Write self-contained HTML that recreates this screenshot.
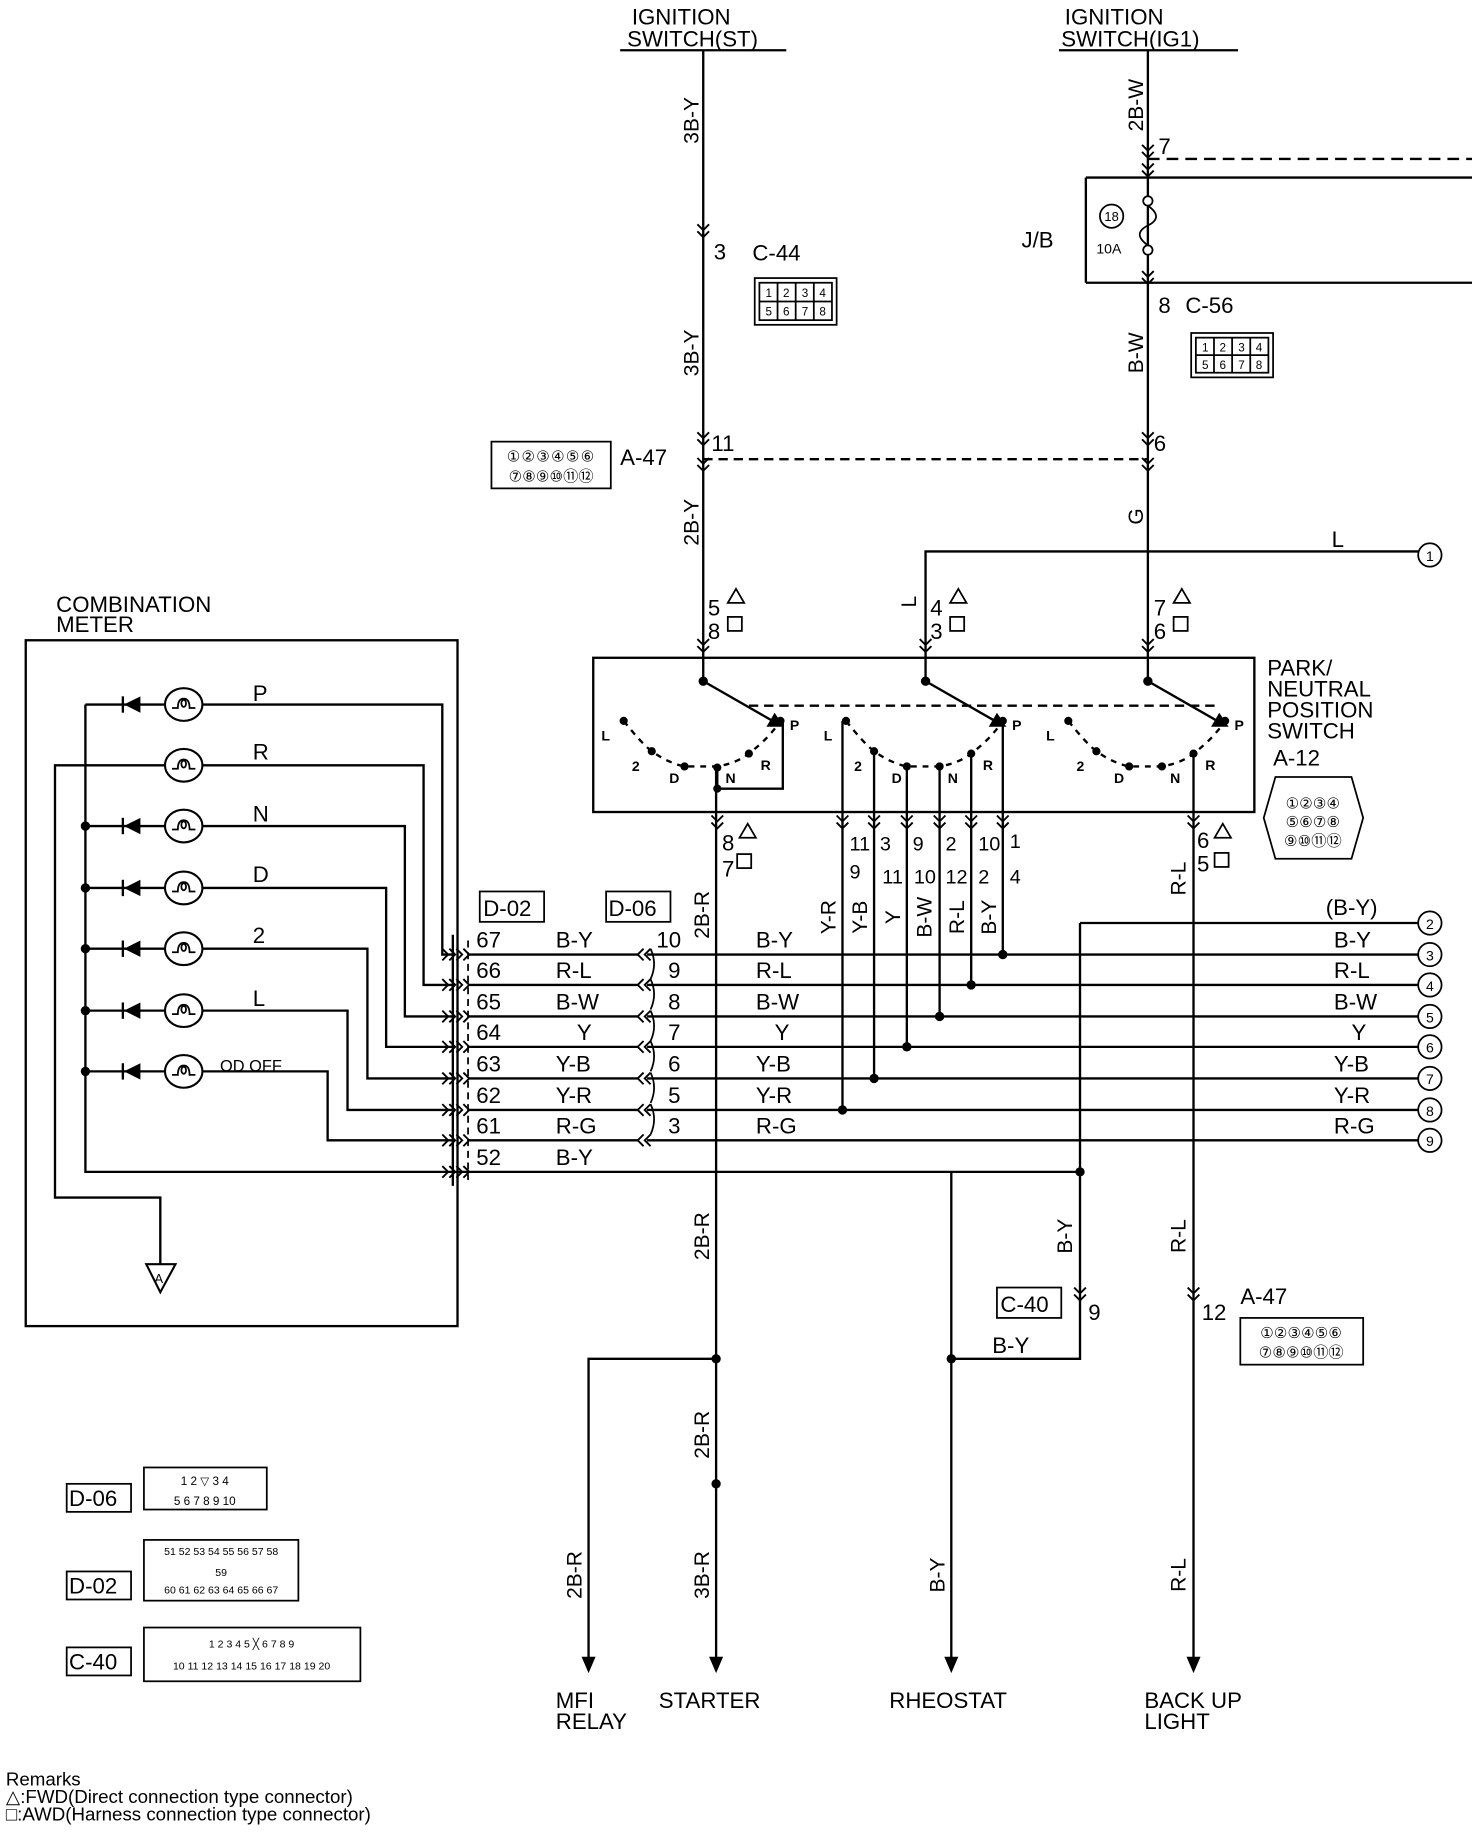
<!DOCTYPE html>
<html><head><meta charset="utf-8">
<style>
html,body{margin:0;padding:0;background:#fff;}
svg{display:block;}
text{font-family:"Liberation Sans",sans-serif;fill:#000;}
</style></head>
<body>
<svg width="1472" height="1832" viewBox="0 0 1258 1568" preserveAspectRatio="none" xmlns="http://www.w3.org/2000/svg">
<defs>
<path id="cd" d="M-5,-8L0,-3L5,-8M-5,-2L0,3L5,-2" fill="none" stroke="#000" stroke-width="1.6"/>
<path id="cr" d="M-8,-5L-3,0L-8,5M-2,-5L3,0L-2,5" fill="none" stroke="#000" stroke-width="1.6"/>
<path id="cl" d="M8,-5L3,0L8,5M2,-5L-3,0L2,5" fill="none" stroke="#000" stroke-width="1.6"/>
<g id="lamp"><ellipse cx="0" cy="0" rx="16" ry="14" fill="#fff" stroke="#000" stroke-width="1.8"/><path d="M-10,3 L-5,3 Q-5,-5 0,-5 Q5,-5 5,3 L10,3 M-2,-1 a2,3 0 1 0 4,0 a2,3 0 1 0 -4,0" fill="none" stroke="#000" stroke-width="1.5"/></g>
<g id="diode"><path d="M10,-7 L10,7 L-4,0 Z" fill="#000"/><path d="M-5,-7 L-5,7" stroke="#000" stroke-width="2"/></g>
<path id="arr" d="M-6,-14 L6,-14 L0,0 Z" fill="#000"/>
</defs>
<g stroke="#000" stroke-width="2" fill="none">
<path d="M530,43H672M905,43H1058"/>
<path d="M601,43V583M981,43V583"/>
<path d="M981,136H1258" stroke-dasharray="10,6"/>
<path d="M928,152H1258M928,242H1258M928,152V242"/>
<path d="M601,393H981" stroke-dasharray="8,5"/>
<path d="M791,583V472H1212"/>
<rect x="507" y="563" width="565" height="132"/>
<path d="M640,604H1040" stroke-dasharray="8,5"/>
<path d="M601,583L662,618M791,583L852,618M981,583L1042,618"/>
<path d="M533,617Q548,636 557,643Q571,653 585,656H613Q630,653 640,645Q657,632 667,617" stroke-dasharray="5,5"/>
<path d="M723,617Q738,636 747,643Q761,653 775,656H803Q820,653 830,645Q847,632 857,617" stroke-dasharray="5,5"/>
<path d="M913,617Q928,636 937,643Q951,653 965,656H993Q1010,653 1020,645Q1037,632 1047,617" stroke-dasharray="5,5"/>
<path d="M613,657V675H669V617"/>
<path d="M612,657V1420"/>
<path d="M612,1163H503V1420"/>
<path d="M720,617V950M747,643V923M775,656V896M803,656V870M830,645V843M857,617V817"/>
<path d="M1020,645V1420"/>
<path d="M923,790H1212M553,817H1212M553,843H1212M553,870H1212M553,896H1212M553,923H1212M553,950H1212M553,976H1212"/>
<path d="M923,790V1163H813"/>
<path d="M400,1003H923M813,1003V1420"/>
<path d="M387,800V1015"/>
<path d="M400,805V1010" stroke-dasharray="6,4" stroke-width="1.5"/>
<path d="M556,812 q6,13 0,26 M556,838 q6,13 0,26 M556,865 q6,13 0,26 M556,891 q6,13 0,26 M556,918 q6,13 0,26 M556,945 q6,13 0,26" stroke-width="1.5"/>
<path d="M400,817H545M400,843H545M400,870H545M400,896H545M400,923H545M400,950H545M400,976H545"/>
<rect x="22" y="548" width="369" height="587"/>
<path d="M73,603V1003H400"/>
<path d="M73,603H143M73,707H143M73,760H143M73,812H143M73,865H143M73,917H143"/>
<path d="M143,655H47V1025H137V1082"/>
<path d="M173,603H378V817H387M173,655H362V843H387M173,707H346V870H387M173,760H330V896H387M173,812H314V923H387M173,865H297V950H387M173,917H280V976H387"/>
<path d="M125,1082H150L137,1106Z" stroke-width="1.8"/>
</g>
<g fill="#000">
<circle cx="601" cy="583" r="4"/><circle cx="791" cy="583" r="4"/><circle cx="981" cy="583" r="4"/>
<circle cx="533" cy="617" r="3.5"/><circle cx="557" cy="643" r="3.5"/><circle cx="585" cy="656" r="3.5"/><circle cx="613" cy="657" r="3.5"/><circle cx="640" cy="645" r="3.5"/><circle cx="667" cy="617" r="3.5"/><circle cx="613" cy="675" r="3.5"/>
<circle cx="723" cy="617" r="3.5"/><circle cx="747" cy="643" r="3.5"/><circle cx="775" cy="656" r="3.5"/><circle cx="803" cy="656" r="3.5"/><circle cx="830" cy="645" r="3.5"/><circle cx="857" cy="617" r="3.5"/>
<circle cx="913" cy="617" r="3.5"/><circle cx="937" cy="643" r="3.5"/><circle cx="965" cy="656" r="3.5"/><circle cx="993" cy="656" r="3.5"/><circle cx="1020" cy="645" r="3.5"/><circle cx="1047" cy="617" r="3.5"/>
<path d="M662,610L670,622L655,622Z"/><path d="M852,610L860,622L845,622Z"/><path d="M1042,610L1050,622L1035,622Z"/>
<circle cx="857" cy="817" r="4"/><circle cx="830" cy="843" r="4"/><circle cx="803" cy="870" r="4"/><circle cx="775" cy="896" r="4"/><circle cx="747" cy="923" r="4"/><circle cx="720" cy="950" r="4"/>
<circle cx="923" cy="1003" r="4"/><circle cx="813" cy="1163" r="4"/><circle cx="612" cy="1163" r="4"/><circle cx="612" cy="1270" r="4"/>
<circle cx="73" cy="707" r="4"/><circle cx="73" cy="760" r="4"/><circle cx="73" cy="812" r="4"/><circle cx="73" cy="865" r="4"/><circle cx="73" cy="917" r="4"/>
</g>
<use href="#arr" x="503" y="1432"/><use href="#arr" x="612" y="1432"/><use href="#arr" x="813" y="1432"/><use href="#arr" x="1020" y="1432"/>
<use href="#cd" x="601" y="200"/><use href="#cd" x="601" y="378"/><use href="#cd" x="601" y="400"/><use href="#cd" x="601" y="555"/>
<use href="#cd" x="981" y="132"/><use href="#cd" x="981" y="148"/><use href="#cd" x="981" y="240"/><use href="#cd" x="981" y="378"/><use href="#cd" x="981" y="400"/><use href="#cd" x="981" y="555"/>
<use href="#cd" x="791" y="555"/>
<use href="#cd" x="613" y="706"/><use href="#cd" x="720" y="706"/><use href="#cd" x="747" y="706"/><use href="#cd" x="775" y="706"/><use href="#cd" x="803" y="706"/><use href="#cd" x="830" y="706"/><use href="#cd" x="857" y="706"/><use href="#cd" x="1020" y="706"/>
<use href="#cd" x="923" y="1110"/><use href="#cd" x="1020" y="1110"/>
<use href="#cr" x="386" y="817"/><use href="#cr" x="386" y="843"/><use href="#cr" x="386" y="870"/><use href="#cr" x="386" y="896"/><use href="#cr" x="386" y="923"/><use href="#cr" x="386" y="950"/><use href="#cr" x="386" y="976"/><use href="#cr" x="386" y="1003"/>
<use href="#cr" x="398" y="817"/><use href="#cr" x="398" y="843"/><use href="#cr" x="398" y="870"/><use href="#cr" x="398" y="896"/><use href="#cr" x="398" y="923"/><use href="#cr" x="398" y="950"/><use href="#cr" x="398" y="976"/><use href="#cr" x="398" y="1003"/>
<use href="#cl" x="548" y="817"/><use href="#cl" x="548" y="843"/><use href="#cl" x="548" y="870"/><use href="#cl" x="548" y="896"/><use href="#cl" x="548" y="923"/><use href="#cl" x="548" y="950"/><use href="#cl" x="548" y="976"/>
<use href="#lamp" x="157" y="603"/><use href="#lamp" x="157" y="655"/><use href="#lamp" x="157" y="707"/><use href="#lamp" x="157" y="760"/><use href="#lamp" x="157" y="812"/><use href="#lamp" x="157" y="865"/><use href="#lamp" x="157" y="917"/>
<use href="#diode" x="110" y="603"/><use href="#diode" x="110" y="707"/><use href="#diode" x="110" y="760"/><use href="#diode" x="110" y="812"/><use href="#diode" x="110" y="865"/><use href="#diode" x="110" y="917"/>
<g stroke="#000" stroke-width="1.5" fill="#fff">
<circle cx="981" cy="172" r="4"/><circle cx="981" cy="214" r="4"/>
<path d="M981,176 Q995,186 981,193 Q967,200 981,210" fill="none"/>
<circle cx="950" cy="185" r="10"/>
<circle cx="1222" cy="475" r="10"/><circle cx="1222" cy="790" r="10"/><circle cx="1222" cy="817" r="10"/><circle cx="1222" cy="843" r="10"/><circle cx="1222" cy="870" r="10"/><circle cx="1222" cy="896" r="10"/><circle cx="1222" cy="923" r="10"/><circle cx="1222" cy="950" r="10"/><circle cx="1222" cy="976" r="10"/>
</g>
<g font-size="12" text-anchor="middle">
<text x="950" y="189" font-size="11">18</text>
<text x="1222" y="480">1</text><text x="1222" y="795">2</text><text x="1222" y="822">3</text><text x="1222" y="848">4</text><text x="1222" y="875">5</text><text x="1222" y="901">6</text><text x="1222" y="928">7</text><text x="1222" y="955">8</text><text x="1222" y="981">9</text>
</g>
<g stroke="#000" stroke-width="1.5" fill="none">
<rect x="645" y="238" width="70" height="40"/><rect x="649" y="242" width="62" height="32"/><path d="M664.5,242V274M680,242V274M695.5,242V274M649,258H711"/>
<rect x="1018" y="285" width="70" height="38"/><rect x="1022" y="289" width="62" height="30"/><path d="M1037.5,289V319M1053,289V319M1068.5,289V319M1022,304H1084"/>
<rect x="420" y="378" width="102" height="40"/>
<rect x="1060" y="1128" width="105" height="40"/>
<path d="M1090,665 L1155,665 L1165,700 L1155,735 L1090,735 L1080,700 Z"/>
<rect x="410" y="763" width="55" height="26"/><rect x="518" y="763" width="55" height="26"/><rect x="852" y="1102" width="55" height="26"/>
<rect x="57" y="1270" width="55" height="24"/><rect x="57" y="1345" width="55" height="24"/><rect x="57" y="1410" width="55" height="24"/>
<rect x="123" y="1256" width="105" height="36"/><rect x="123" y="1318" width="132" height="52"/><rect x="123" y="1393" width="185" height="46"/>
</g>
<g font-family="Liberation Mono" font-size="10" text-anchor="middle">
<text x="657" y="254">1</text><text x="672" y="254">2</text><text x="688" y="254">3</text><text x="703" y="254">4</text>
<text x="657" y="270">5</text><text x="672" y="270">6</text><text x="688" y="270">7</text><text x="703" y="270">8</text>
<text x="1030" y="301">1</text><text x="1045" y="301">2</text><text x="1061" y="301">3</text><text x="1076" y="301">4</text>
<text x="1030" y="316">5</text><text x="1045" y="316">6</text><text x="1061" y="316">7</text><text x="1076" y="316">8</text>
<text x="471" y="395" font-size="13" letter-spacing="1">①②③④⑤⑥</text><text x="471" y="412" font-size="13">⑦⑧⑨⑩⑪⑫</text>
<text x="1112" y="1145" font-size="13">①②③④⑤⑥</text><text x="1112" y="1162" font-size="13">⑦⑧⑨⑩⑪⑫</text>
<text x="1122" y="692" font-size="13">①②③④</text><text x="1122" y="708" font-size="13">⑤⑥⑦⑧</text><text x="1122" y="724" font-size="13">⑨⑩⑪⑫</text>
<text x="175" y="1271">1 2 ▽ 3 4</text><text x="175" y="1288">5 6 7 8 9 10</text>
<text x="189" y="1331" font-size="9">51 52 53 54 55 56 57 58</text><text x="189" y="1349" font-size="9">59</text><text x="189" y="1364" font-size="9">60 61 62 63 64 65 66 67</text>
<text x="215" y="1410" font-size="9">1 2 3 4 5 ╳ 6 7 8 9</text><text x="215" y="1429" font-size="9">10 11 12 13 14 15 16 17 18 19 20</text>
</g>
<g font-size="19" font-family="Liberation Sans Narrow,Liberation Sans,sans-serif">
<text x="540" y="21">IGNITION</text><text x="536" y="40">SWITCH(ST)</text>
<text x="910" y="21">IGNITION</text><text x="907" y="40">SWITCH(IG1)</text>
<text x="610" y="222">3</text><text x="643" y="223">C-44</text>
<text x="990" y="268">8</text><text x="1013" y="268">C-56</text>
<text x="990" y="132">7</text>
<text x="873" y="212">J/B</text><text x="937" y="217" font-size="12">10A</text>
<text x="608" y="386">11</text><text x="530" y="398">A-47</text><text x="986" y="386">6</text>
<text x="1138" y="468">L</text>
<text x="605" y="527">5</text><text x="605" y="547">8</text><text x="795" y="527">4</text><text x="795" y="547">3</text><text x="986" y="527">7</text><text x="986" y="547">6</text>
<text x="1083" y="578">PARK/</text><text x="1083" y="596">NEUTRAL</text><text x="1083" y="614">POSITION</text><text x="1083" y="632">SWITCH</text><text x="1088" y="655">A-12</text>
<text x="48" y="524">COMBINATION</text><text x="48" y="541">METER</text>
<text x="216" y="600">P</text><text x="216" y="650">R</text><text x="216" y="703">N</text><text x="216" y="755">D</text><text x="216" y="807">2</text><text x="216" y="861">L</text><text x="188" y="917" font-size="14">OD OFF</text>
<text x="617" y="728">8</text><text x="617" y="750">7</text>
<text x="1023" y="726">6</text><text x="1023" y="746">5</text>
<g font-size="17"><text x="726" y="728">11</text><text x="726" y="752">9</text><text x="752" y="728">3</text><text x="754" y="756">11</text><text x="780" y="728">9</text><text x="781" y="756">10</text><text x="808" y="728">2</text><text x="808" y="756">12</text><text x="836" y="728">10</text><text x="836" y="756">2</text><text x="863" y="726">1</text><text x="863" y="756">4</text></g>
<text x="413" y="784">D-02</text><text x="520" y="784">D-06</text>
<text x="407" y="811">67</text><text x="407" y="837">66</text><text x="407" y="864">65</text><text x="407" y="890">64</text><text x="407" y="917">63</text><text x="407" y="944">62</text><text x="407" y="970">61</text><text x="407" y="997">52</text>
<text x="475" y="811">B-Y</text><text x="475" y="837">R-L</text><text x="475" y="864">B-W</text><text x="493" y="890">Y</text><text x="475" y="917">Y-B</text><text x="475" y="944">Y-R</text><text x="475" y="970">R-G</text><text x="475" y="997">B-Y</text>
<text x="561" y="811">10</text><text x="571" y="837">9</text><text x="571" y="864">8</text><text x="571" y="890">7</text><text x="571" y="917">6</text><text x="571" y="944">5</text><text x="571" y="970">3</text>
<text x="646" y="811">B-Y</text><text x="646" y="837">R-L</text><text x="646" y="864">B-W</text><text x="662" y="890">Y</text><text x="646" y="917">Y-B</text><text x="646" y="944">Y-R</text><text x="646" y="970">R-G</text>
<text x="1133" y="783">(B-Y)</text><text x="1140" y="811">B-Y</text><text x="1140" y="837">R-L</text><text x="1140" y="864">B-W</text><text x="1155" y="890">Y</text><text x="1140" y="917">Y-B</text><text x="1140" y="944">Y-R</text><text x="1140" y="970">R-G</text>
<text x="855" y="1123">C-40</text><text x="930" y="1130">9</text><text x="848" y="1158">B-Y</text>
<text x="1027" y="1130">12</text><text x="1060" y="1116">A-47</text>
<text x="475" y="1462">MFI</text><text x="475" y="1480">RELAY</text><text x="563" y="1462">STARTER</text><text x="760" y="1462">RHEOSTAT</text><text x="978" y="1462">BACK UP</text><text x="978" y="1480">LIGHT</text>
<text x="59" y="1289">D-06</text><text x="59" y="1364">D-02</text><text x="59" y="1429">C-40</text>
<text x="132" y="1098" font-size="11">A</text>
</g>
<g stroke="#000" stroke-width="1.5" fill="none">
<path d="M622,516l7,-12l7,12z M812,516l7,-12l7,12z M1003,516l7,-12l7,12z M632,717l7,-12l7,12z M1038,717l7,-12l7,12z"/>
<rect x="622" y="528" width="12" height="12"/><rect x="812" y="528" width="12" height="12"/><rect x="1003" y="528" width="12" height="12"/><rect x="630" y="731" width="12" height="12"/><rect x="1038" y="730" width="12" height="12"/>
</g>
<g font-size="18" text-anchor="middle" font-family="Liberation Sans Narrow,Liberation Sans,sans-serif">
<text transform="translate(597,103) rotate(-90)">3B-Y</text>
<text transform="translate(597,302) rotate(-90)">3B-Y</text>
<text transform="translate(597,447) rotate(-90)">2B-Y</text>
<text transform="translate(977,90) rotate(-90)">2B-W</text>
<text transform="translate(977,302) rotate(-90)">B-W</text>
<text transform="translate(977,442) rotate(-90)">G</text>
<text transform="translate(783,515) rotate(-90)">L</text>
<text transform="translate(606,783) rotate(-90)">2B-R</text>
<text transform="translate(714,785) rotate(-90)">Y-R</text>
<text transform="translate(741,785) rotate(-90)">Y-B</text>
<text transform="translate(769,785) rotate(-90)">Y</text>
<text transform="translate(796,785) rotate(-90)">B-W</text>
<text transform="translate(824,785) rotate(-90)">R-L</text>
<text transform="translate(851,785) rotate(-90)">B-Y</text>
<text transform="translate(1013,752) rotate(-90)">R-L</text>
<text transform="translate(606,1058) rotate(-90)">2B-R</text>
<text transform="translate(606,1228) rotate(-90)">2B-R</text>
<text transform="translate(606,1348) rotate(-90)">3B-R</text>
<text transform="translate(497,1348) rotate(-90)">2B-R</text>
<text transform="translate(807,1348) rotate(-90)">B-Y</text>
<text transform="translate(916,1058) rotate(-90)">B-Y</text>
<text transform="translate(1013,1058) rotate(-90)">R-L</text>
<text transform="translate(1013,1348) rotate(-90)">R-L</text>
</g>
<g font-size="12" font-weight="bold">
<text x="514" y="634">L</text><text x="540" y="660">2</text><text x="572" y="670">D</text><text x="620" y="670">N</text><text x="650" y="659">R</text><text x="675" y="625">P</text>
<text x="704" y="634">L</text><text x="730" y="660">2</text><text x="762" y="670">D</text><text x="810" y="670">N</text><text x="840" y="659">R</text><text x="865" y="625">P</text>
<text x="894" y="634">L</text><text x="920" y="660">2</text><text x="952" y="670">D</text><text x="1000" y="670">N</text><text x="1030" y="659">R</text><text x="1055" y="625">P</text>
</g>
<g font-family="Liberation Mono" font-size="16">
<text x="5" y="1528">Remarks</text>
<text x="5" y="1543">△:FWD(Direct connection type connector)</text>
<text x="5" y="1558">□:AWD(Harness connection type connector)</text>
</g>
</svg>
</body></html>
